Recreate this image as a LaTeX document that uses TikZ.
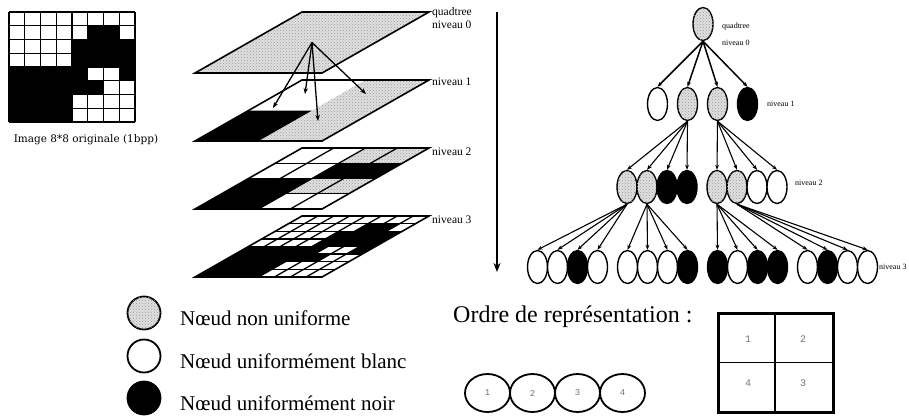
\documentclass[tikz,border=0pt]{standalone}
\usepackage{fontspec}
\usepackage{graphicx}
\setmainfont{Liberation Serif}
\newfontfamily\capfont{DejaVu Serif}
\newfontfamily\digitfont{Liberation Mono}
\usetikzlibrary{shapes.geometric,patterns,arrows.meta}

\tikzset{
  stipple/.style={fill=black!12, postaction={pattern=crosshatch dots, pattern color=black!40}},
  gridline/.style={line width=1.3pt},
  layeredge/.style={line width=1.6pt, line join=miter},
  qnode/.style={ellipse, draw, line width=1.4pt, minimum width=20pt, minimum height=33pt, inner sep=0pt},
  gnode/.style={qnode, stipple},
  wnode/.style={qnode, fill=white},
  bnode/.style={qnode, fill=black},
  tedge/.style={-{Stealth[length=5pt,width=3.8pt]}, line width=1.1pt},
  ledge/.style={-{Stealth[length=6pt,width=4.5pt]}, line width=1.3pt},
  smalllabel/.style={font=\fontsize{8}{9}\selectfont, anchor=west, inner sep=0pt},
  layerlabel/.style={font=\fontsize{11.5}{12}\selectfont, anchor=west, inner sep=0pt},
  legendtext/.style={font=\fontsize{21}{24}\selectfont, anchor=base west, inner sep=0pt},
  legendmark/.style={circle, draw, line width=1.8pt, minimum size=33pt, inner sep=0pt},
  ordernode/.style={ellipse, draw, line width=1.8pt, minimum width=45pt, minimum height=38pt, inner sep=0pt,
    font=\digitfont\fontsize{9}{10}\selectfont, text=black!55},
  cellnum/.style={font=\digitfont\fontsize{10}{11}\selectfont, text=black!55},
}

\begin{document}
\begin{tikzpicture}[x=1pt,y=-1pt]
\useasboundingbox (0,0) rectangle (909,416);

% ---- original 8x8 binary image ----
\begin{scope}[shift={(9,12)}, x={(15.75pt,0pt)}, y={(0pt,-13.75pt)}]
  \fill[white] (0,0) rectangle (8,8);
  \foreach \c/\r in {5/1,6/1,4/2,5/2,6/2,7/2,4/3,5/3,6/3,7/3,0/4,1/4,2/4,3/4,4/4,7/4,
                     0/5,1/5,2/5,3/5,4/5,5/5,0/6,1/6,2/6,3/6,0/7,1/7,2/7,3/7}
    \fill[black] (\c,\r) rectangle ++(1,1);
  \foreach \i in {0,...,8} {
    \draw[gridline] (\i,0) -- (\i,8);
    \draw[gridline] (0,\i) -- (8,\i);
  }
\end{scope}
\node[font=\capfont\fontsize{10.5}{12}\selectfont, anchor=base, inner sep=0pt] (caption) at (86,142) {Image 8*8 originale (1bpp)};

% ---- pyramid of levels ----
% level 0
\begin{scope}[shift={(302,12)}, x={(127pt,0pt)}, y={(-107pt,-61pt)}]
  \path[stipple] (0,0) -- (1,0) -- (1,1) -- (0,1) -- cycle;
  \draw[layeredge] (0,0) -- (1,0) -- (1,1) -- (0,1) -- cycle;
  \coordinate (apex) at (0.5,0.5);
\end{scope}
% level 1
\begin{scope}[shift={(302,80)}, x={(127pt,0pt)}, y={(-107pt,-61pt)}]
  \fill[white] (0,0) -- (1,0) -- (1,1) -- (0,1) -- cycle;
  \path[stipple] (0.5,0) -- (1,0) -- (1,1) -- (0.5,1) -- cycle;
  \fill[black] (0,0.5) -- (0.5,0.5) -- (0.5,1) -- (0,1) -- cycle;
  \draw[layeredge] (0,0) -- (1,0) -- (1,1) -- (0,1) -- cycle;
\end{scope}
% level 2
\begin{scope}[shift={(302,148)}, x={(127pt,0pt)}, y={(-107pt,-61pt)}]
  \fill[white] (0,0) -- (1,0) -- (1,1) -- (0,1) -- cycle;
  \foreach \c/\r in {2/0,3/0,2/2,3/2}
    \path[stipple] ({\c/4},{\r/4}) -- ++(0.25,0) -- ++(0,0.25) -- ++(-0.25,0) -- cycle;
  \foreach \c/\r in {2/1,3/1,0/2,1/2,0/3,1/3}
    \fill[black] ({\c/4},{\r/4}) -- ++(0.25,0) -- ++(0,0.25) -- ++(-0.25,0) -- cycle;
  \foreach \i in {1,2,3} {
    \draw[gridline] ({\i/4},0) -- ({\i/4},1);
    \draw[gridline] (0,{\i/4}) -- (1,{\i/4});
  }
  \draw[layeredge] (0,0) -- (1,0) -- (1,1) -- (0,1) -- cycle;
\end{scope}
% level 3
\begin{scope}[shift={(302,216)}, x={(127pt,0pt)}, y={(-107pt,-61pt)}]
  \fill[white] (0,0) -- (1,0) -- (1,1) -- (0,1) -- cycle;
  \foreach \c/\r in {5/1,6/1,4/2,5/2,6/2,7/2,4/3,5/3,6/3,7/3,0/4,1/4,2/4,3/4,4/4,7/4,
                     0/5,1/5,2/5,3/5,4/5,5/5,0/6,1/6,2/6,3/6,0/7,1/7,2/7,3/7}
    \fill[black] ({\c/8},{\r/8}) -- ++(0.125,0) -- ++(0,0.125) -- ++(-0.125,0) -- cycle;
  \foreach \i in {1,...,7} {
    \draw[gridline] ({\i/8},0) -- ({\i/8},1);
    \draw[gridline] (0,{\i/8}) -- (1,{\i/8});
  }
  \draw[layeredge] (0,0) -- (1,0) -- (1,1) -- (0,1) -- cycle;
\end{scope}

% arrows from level 0 down to the quadrants of level 1
\coordinate (q1) at (305,94);
\coordinate (q2) at (366,94);
\coordinate (q3) at (318,121);
\coordinate (q4) at (273,108);
\foreach \q in {q1,q2,q3,q4} \draw[ledge] (apex) -- (\q);

\node[layerlabel] (lq) at (432,13) {quadtree};
\node[layerlabel] (l0) at (432,24.5) {niveau 0};
\node[layerlabel] (l1) at (432,82) {niveau 1};
\node[layerlabel] (l2) at (432,152) {niveau 2};
\node[layerlabel] (l3) at (432,220) {niveau 3};

% depth arrow
\coordinate (dtop) at (497,12);
\coordinate (dbot) at (497,272);
\draw[line width=2.2pt, -{Stealth[length=9pt,width=7pt]}] (dtop) -- (dbot);

% ---- quadtree ----
\node[gnode] (root) at (703,24) {};
\node[wnode] (a1) at (657.5,104) {};
\node[gnode] (a2) at (687.5,104) {};
\node[gnode] (a3) at (717.5,104) {};
\node[bnode] (a4) at (747.5,104) {};

\node[gnode] (b1) at (627,187) {};
\node[gnode] (b2) at (647,187) {};
\node[bnode] (b3) at (667,187) {};
\node[bnode] (b4) at (687,187) {};
\node[gnode] (b5) at (717,187) {};
\node[gnode] (b6) at (737,187) {};
\node[wnode] (b7) at (757,187) {};
\node[wnode] (b8) at (777,187) {};

\node[wnode] (c1) at (537.5,267) {};
\node[wnode] (c2) at (557.5,267) {};
\node[bnode] (c3) at (577.5,267) {};
\node[wnode] (c4) at (597.5,267) {};
\node[wnode] (c5) at (627.5,267) {};
\node[wnode] (c6) at (647.5,267) {};
\node[wnode] (c7) at (667.5,267) {};
\node[bnode] (c8) at (687.5,267) {};
\node[bnode] (c9) at (717.5,267) {};
\node[wnode] (c10) at (737.5,267) {};
\node[bnode] (c11) at (757.5,267) {};
\node[bnode] (c12) at (777.5,267) {};
\node[wnode] (c13) at (807.5,267) {};
\node[bnode] (c14) at (827.5,267) {};
\node[wnode] (c15) at (847.5,267) {};
\node[wnode] (c16) at (867.5,267) {};

\foreach \i in {1,...,4} \draw[tedge, line width=1.5pt] (root.south) -- (a\i.north);
\foreach \i in {1,...,4} \draw[tedge] (a2.south) -- (b\i.north);
\foreach \i in {5,...,8} \draw[tedge] (a3.south) -- (b\i.north);
\foreach \i in {1,...,4} \draw[tedge] (b1.south) -- (c\i.north);
\foreach \i in {5,...,8} \draw[tedge] (b2.south) -- (c\i.north);
\foreach \i in {9,...,12} \draw[tedge] (b5.south) -- (c\i.north);
\foreach \i in {13,...,16} \draw[tedge] (b6.south) -- (c\i.north);

\node[smalllabel] (tq) at (722,27) {quadtree};
\node[smalllabel] (t0) at (722,43) {niveau 0};
\node[smalllabel] (t1) at (767,104) {niveau 1};
\node[smalllabel] (t2) at (795,183) {niveau 2};
\node[smalllabel] (t3) at (879,267) {niveau 3};

% ---- legend ----
\node[legendmark, stipple] (mg) at (144,313) {};
\node[legendmark, fill=white] (mw) at (144,356) {};
\node[legendmark, fill=black] (mb) at (144,398) {};
\node[legendtext] (xg) at (180,325) {Nœud non uniforme};
\node[legendtext] (xw) at (180,368) {Nœud uniformément blanc};
\node[legendtext] (xb) at (180,410) {Nœud uniformément noir};

% ---- child ordering ----
\node[font=\fontsize{24}{28}\selectfont, anchor=base west, inner sep=0pt] (order) at (453,322) {Ordre de représentation :};
\node[ordernode] (o1) at (487.5,393) {1};
\node[ordernode] (o2) at (532.5,393) {2};
\node[ordernode] (o3) at (577.5,393) {3};
\node[ordernode] (o4) at (622.5,393) {4};

\draw[line width=1pt] (718,362) -- (833,362);
\draw[line width=2.5pt] (775,313) -- (775,412);
\draw[line width=3pt] (718,313) rectangle (833,412);
\node[cellnum] (s1) at (748,339) {1};
\node[cellnum] (s2) at (803,339) {2};
\node[cellnum] (s4) at (748,383) {4};
\node[cellnum] (s3) at (803,383) {3};
\end{tikzpicture}
\end{document}
